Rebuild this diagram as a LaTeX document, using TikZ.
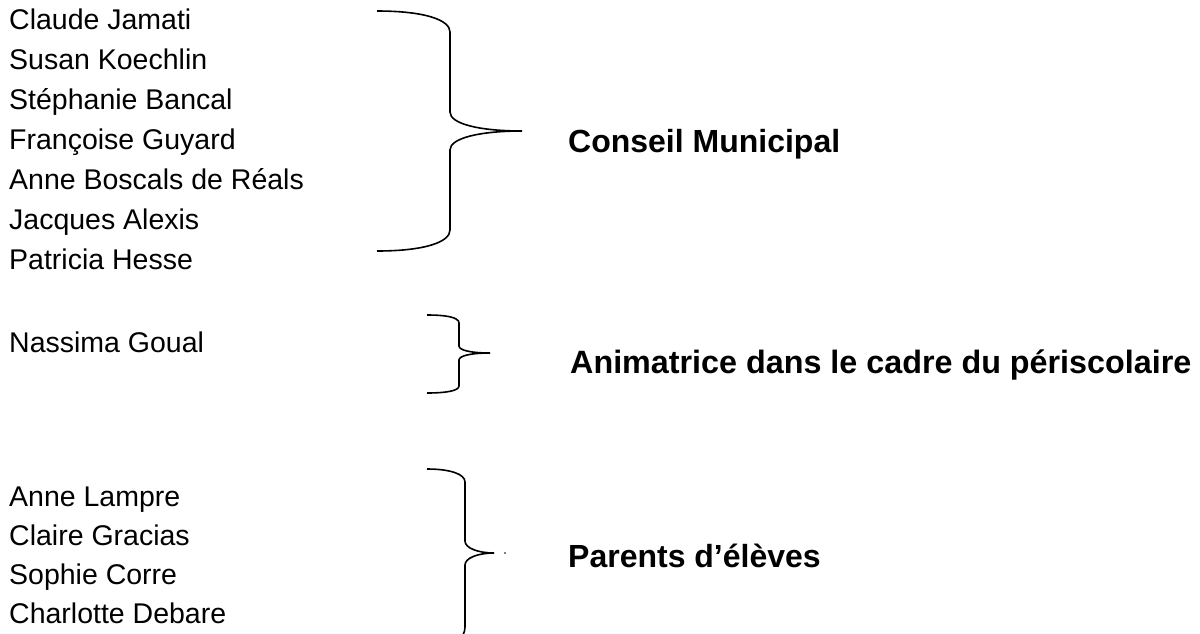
\documentclass[tikz,border=0pt]{standalone}
\usepackage{fontspec}
\setmainfont{Liberation Sans}
\begin{document}
\begin{tikzpicture}[x=1pt,y=-1pt,
  namestyle/.style={anchor=base west,inner sep=0pt,font=\fontsize{28.5}{34}\selectfont},
  labelstyle/.style={anchor=base west,inner sep=0pt,font=\fontsize{32}{38}\selectfont\bfseries},
  bracestyle/.style={draw=black,line width=1.6pt}]
\useasboundingbox (0,0) rectangle (1200,633);
% names
\node[namestyle] (n1) at (9,29) {Claude Jamati};
\node[namestyle] (n2) at (9,69) {Susan Koechlin};
\node[namestyle] (n3) at (9,109) {Stéphanie Bancal};
\node[namestyle] (n4) at (9,149) {Françoise Guyard};
\node[namestyle] (n5) at (9,189) {Anne Boscals de Réals};
\node[namestyle] (n6) at (9,229) {Jacques Alexis};
\node[namestyle] (n7) at (9,269) {Patricia Hesse};
\node[namestyle] (n8) at (9,352) {Nassima Goual};
\node[namestyle] (n9) at (9,506) {Anne Lampre};
\node[namestyle] (n10) at (9,545) {Claire Gracias};
\node[namestyle] (n11) at (9,584) {Sophie Corre};
\node[namestyle] (n12) at (9,623) {Charlotte Debare};
% labels
\node[labelstyle] (l1) at (568,152) {Conseil Municipal};
\node[labelstyle,font=\fontsize{32.3}{38}\selectfont\bfseries] (l2) at (570,373) {Animatrice dans le cadre du périscolaire};
\node[labelstyle] (l3) at (568,567) {Parents d’élèves};
% braces
\draw[bracestyle] (377,11) .. controls (425,11) and (450,20) .. (450,32) -- (450,112)
  .. controls (450,124) and (480,131) .. (522,131)
  .. controls (480,131) and (450,138) .. (450,150) -- (450,230)
  .. controls (450,242) and (425,251) .. (377,251);
\draw[bracestyle] (427,315) .. controls (445,315) and (459,317) .. (459,323) -- (459,346)
  .. controls (459,350) and (470,353) .. (490,353)
  .. controls (470,353) and (459,356) .. (459,360) -- (459,386)
  .. controls (459,391) and (445,393) .. (427,393);
\draw[bracestyle] (427,469) .. controls (450,469) and (465,474) .. (465,482) -- (465,541)
  .. controls (465,548) and (478,553) .. (494,553)
  .. controls (478,553) and (465,558) .. (465,565) -- (465,627)
  .. controls (465,633) and (462,636) .. (460,640);
\fill (505,553) circle (0.9);
\end{tikzpicture}
\end{document}
